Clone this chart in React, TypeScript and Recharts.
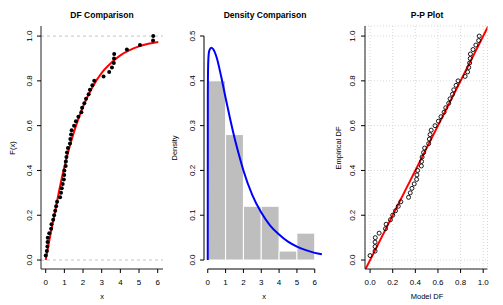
import React from 'react';
import {
  ComposedChart,
  XAxis,
  YAxis,
  Scatter,
  Line,
  ReferenceLine,
  ReferenceArea,
  CartesianGrid,
} from 'recharts';

const FONT = '"Liberation Sans", Arial, Helvetica, sans-serif';

// ---- Data ----
// sorted sample (x positions of the ECDF points)
const sampleX = [
  0.0, 0.06, 0.09, 0.1, 0.11, 0.19, 0.29, 0.31, 0.4, 0.45,
  0.51, 0.56, 0.61, 0.77, 0.82, 0.86, 0.91, 0.97, 0.99, 1.0,
  1.07, 1.08, 1.11, 1.14, 1.19, 1.3, 1.32, 1.36, 1.39, 1.52,
  1.62, 1.75, 1.91, 1.95, 2.07, 2.16, 2.3, 2.37, 2.5, 2.6,
  3.1, 3.4, 3.55, 3.65, 3.66, 3.67, 4.35, 5.05, 5.75, 5.76,
];
// empirical distribution values
const empiricalF = [
  0.02, 0.04, 0.06, 0.08, 0.1, 0.12, 0.14, 0.16, 0.18, 0.2,
  0.22, 0.24, 0.26, 0.28, 0.3, 0.32, 0.34, 0.36, 0.38, 0.4,
  0.42, 0.44, 0.46, 0.48, 0.5, 0.52, 0.54, 0.56, 0.58, 0.6,
  0.62, 0.64, 0.66, 0.68, 0.7, 0.72, 0.74, 0.76, 0.78, 0.8,
  0.82, 0.84, 0.86, 0.88, 0.9, 0.92, 0.94, 0.96, 0.98, 1.0,
];
// model DF at the sample points (P-P plot x)
const ppModel = [
  0.0, 0.044, 0.044, 0.044, 0.046, 0.08, 0.136, 0.142, 0.18, 0.2,
  0.225, 0.249, 0.272, 0.34, 0.355, 0.37, 0.39, 0.411, 0.414, 0.42,
  0.453, 0.455, 0.46, 0.473, 0.482, 0.518, 0.524, 0.53, 0.54, 0.574,
  0.604, 0.627, 0.654, 0.669, 0.695, 0.707, 0.728, 0.74, 0.76, 0.778,
  0.84, 0.862, 0.872, 0.88, 0.885, 0.887, 0.91, 0.935, 0.96, 0.965,
];
// fitted CDF curve
const cdfCurveX = [0, 0.1, 0.25, 0.5, 0.75, 1, 1.25, 1.5, 1.75, 2, 2.5, 3, 3.5, 4, 4.5, 5, 5.5, 6.03];
const cdfCurveY = [0, 0.045, 0.112, 0.215, 0.322, 0.415, 0.497, 0.567, 0.63, 0.685, 0.772, 0.836, 0.88, 0.914, 0.937, 0.954, 0.966, 0.974];
// fitted density curve
const densCurveX = [0, 0.005, 0.02, 0.05, 0.1, 0.2, 0.3, 0.5, 0.75, 1, 1.25, 1.5, 1.75, 2, 2.5, 3, 3.5, 4, 4.5, 5, 5.5, 6, 6.4];
const densCurveY = [0, 0.37, 0.43, 0.458, 0.469, 0.474, 0.471, 0.452, 0.41, 0.362, 0.316, 0.273, 0.235, 0.2, 0.145, 0.106, 0.077, 0.057, 0.041, 0.03, 0.022, 0.016, 0.013];
// histogram
const binLo = [0, 1, 2, 3, 4, 5];
const binHi = [1, 2, 3, 4, 5, 6];
const binDensity = [0.4, 0.28, 0.12, 0.12, 0.02, 0.06];
// ticks
const dfTicksX = [0, 1, 2, 3, 4, 5, 6];
const dfTicksY = [0, 0.2, 0.4, 0.6, 0.8, 1];
const densTicksX = [0, 1, 2, 3, 4, 5, 6];
const densTicksY = [0, 0.1, 0.2, 0.3, 0.4, 0.5];
const ppTicks = [0, 0.2, 0.4, 0.6, 0.8, 1];

// ---- derived tables ----
const ecdfPoints = sampleX.map((x, i) => ({ x, y: empiricalF[i] }));
const cdfCurve = cdfCurveX.map((x, i) => ({ x, y: cdfCurveY[i] }));
const densCurve = densCurveX.map((x, i) => ({ x, y: densCurveY[i] }));
const ppPoints = ppModel.map((x, i) => ({ x, y: empiricalF[i] }));

// axis domains (plot region extents)
const X1: [number, number] = [-0.252, 6.284];
const Y1: [number, number] = [-0.04, 1.045];
const X2: [number, number] = [-0.21, 6.63];
const Y2: [number, number] = [-0.02, 0.5223];
const X3: [number, number] = [-0.045, 1.038];

const makeXTick = (dec: number) => (props: any) => {
  const { x, y, payload } = props;
  return (
    <text
      x={x}
      y={y + 7}
      textAnchor="middle"
      dominantBaseline="central"
      fontSize={8}
      fontFamily={FONT}
      fill="#000"
    >
      {Number(payload.value).toFixed(dec)}
    </text>
  );
};

const makeYTick = (off: number) => (props: any) => {
  const { x, y, payload } = props;
  const ax = x - off;
  return (
    <text
      x={ax}
      y={y}
      transform={`rotate(-90, ${ax}, ${y})`}
      textAnchor="middle"
      dominantBaseline="central"
      fontSize={8}
      fontFamily={FONT}
      fill="#000"
    >
      {Number(payload.value).toFixed(1)}
    </text>
  );
};

const filledDot = (p: any) => <circle cx={p.cx} cy={p.cy} r={2} fill="#000" />;
const openDot = (p: any) => (
  <circle cx={p.cx} cy={p.cy} r={2} fill="none" stroke="#000" strokeWidth={0.9} />
);

function T({
  x,
  y,
  children,
  rot = 0,
  size = 7.5,
  bold = false,
}: {
  x: number;
  y: number;
  children: React.ReactNode;
  rot?: number;
  size?: number;
  bold?: boolean;
}) {
  return (
    <div
      style={{
        position: 'absolute',
        left: x,
        top: y,
        transform: `translate(-50%, -50%) rotate(${rot}deg)`,
        fontSize: size,
        fontWeight: bold ? 700 : 400,
        fontFamily: FONT,
        whiteSpace: 'nowrap',
        lineHeight: 1,
        color: '#000',
      }}
    >
      {children}
    </div>
  );
}

const BOX = '#222';

export default function App() {
  return (
    <div
      style={{
        position: 'absolute',
        left: 0,
        top: 0,
        width: 503,
        height: 305,
        background: '#fff',
        overflow: 'hidden',
      }}
    >
      {/* Panel 1: DF comparison */}
      <div style={{ position: 'absolute', left: 0, top: 0 }}>
        <ComposedChart width={170} height={305} margin={{ top: 26, right: 7, bottom: 0, left: 0 }}>
          <XAxis
            type="number"
            dataKey="x"
            domain={X1}
            ticks={dfTicksX}
            interval={0}
            allowDataOverflow
            height={36}
            tickSize={4}
            tickMargin={2}
            tick={makeXTick(0)}
            axisLine={{ stroke: BOX }}
            tickLine={{ stroke: '#000' }}
          />
          <XAxis xAxisId="t" type="number" orientation="top" domain={X1} height={0} tick={false} tickLine={false} axisLine={{ stroke: BOX }} />
          <YAxis
            type="number"
            dataKey="y"
            domain={Y1}
            ticks={dfTicksY}
            interval={0}
            allowDataOverflow
            width={41}
            tickSize={4}
            tickMargin={2}
            tick={makeYTick(5.5)}
            axisLine={{ stroke: BOX }}
            tickLine={{ stroke: '#000' }}
          />
          <YAxis yAxisId="r" type="number" orientation="right" domain={Y1} width={0} tick={false} tickLine={false} axisLine={{ stroke: BOX }} />
          <ReferenceLine y={0} stroke="#c4c4c4" strokeDasharray="3 3" />
          <ReferenceLine y={1} stroke="#c4c4c4" strokeDasharray="3 3" />
          <Scatter data={ecdfPoints} dataKey="y" shape={filledDot} isAnimationActive={false} />
          <Line data={cdfCurve} dataKey="y" type="monotone" stroke="#ff0000" strokeWidth={2} dot={false} isAnimationActive={false} />
        </ComposedChart>
      </div>

      {/* Panel 2: Density comparison */}
      <div style={{ position: 'absolute', left: 168, top: 0 }}>
        <ComposedChart width={165} height={305} margin={{ top: 26, right: 7, bottom: 0, left: 0 }}>
          <XAxis
            type="number"
            dataKey="x"
            domain={X2}
            ticks={densTicksX}
            interval={0}
            allowDataOverflow
            height={36}
            tickSize={4}
            tickMargin={2}
            tick={makeXTick(0)}
            axisLine={false}
            tickLine={{ stroke: '#000' }}
          />
          <YAxis
            type="number"
            dataKey="y"
            domain={Y2}
            ticks={densTicksY}
            interval={0}
            allowDataOverflow
            width={36}
            tickSize={4}
            tickMargin={2}
            tick={makeYTick(5.2)}
            axisLine={false}
            tickLine={{ stroke: '#000' }}
          />
          {binLo.map((lo, i) => (
            <ReferenceArea
              key={i}
              x1={lo}
              x2={binHi[i]}
              y1={0}
              y2={binDensity[i]}
              fill="#bebebe"
              fillOpacity={1}
              stroke="#ffffff"
              strokeWidth={1}
              ifOverflow="visible"
            />
          ))}
          <ReferenceLine
            segment={[{ x: densTicksX[0], y: Y2[0] }, { x: densTicksX[densTicksX.length - 1], y: Y2[0] }]}
            stroke="#000"
            ifOverflow="visible"
          />
          <ReferenceLine
            segment={[{ x: X2[0], y: densTicksY[0] }, { x: X2[0], y: densTicksY[densTicksY.length - 1] }]}
            stroke="#000"
            ifOverflow="visible"
          />
          <Line data={densCurve} dataKey="y" type="monotone" stroke="#0000ff" strokeWidth={2} dot={false} isAnimationActive={false} />
        </ComposedChart>
      </div>

      {/* Panel 3: P-P plot */}
      <div style={{ position: 'absolute', left: 336, top: 0 }}>
        <ComposedChart width={167} height={305} margin={{ top: 26, right: 15.5, bottom: 0, left: 0 }}>
          <CartesianGrid stroke="#d8d8d8" strokeDasharray="1 2" />
          <XAxis
            type="number"
            dataKey="x"
            domain={X3}
            ticks={ppTicks}
            interval={0}
            allowDataOverflow
            height={36}
            tickSize={4}
            tickMargin={2}
            tick={makeXTick(1)}
            axisLine={{ stroke: BOX }}
            tickLine={{ stroke: '#000' }}
          />
          <XAxis xAxisId="t" type="number" orientation="top" domain={X3} height={0} tick={false} tickLine={false} axisLine={{ stroke: BOX }} />
          <YAxis
            type="number"
            dataKey="y"
            domain={Y1}
            ticks={ppTicks}
            interval={0}
            allowDataOverflow
            width={29}
            tickSize={4}
            tickMargin={2}
            tick={makeYTick(6.3)}
            axisLine={{ stroke: BOX }}
            tickLine={{ stroke: '#000' }}
          />
          <YAxis yAxisId="r" type="number" orientation="right" domain={Y1} width={0} tick={false} tickLine={false} axisLine={{ stroke: BOX }} />
          <Scatter data={ppPoints} dataKey="y" shape={openDot} isAnimationActive={false} />
          <ReferenceLine
            segment={[{ x: -0.2, y: -0.2 }, { x: 1.2, y: 1.2 }]}
            stroke="#ff0000"
            strokeWidth={2}
            ifOverflow="hidden"
          />
        </ComposedChart>
      </div>

      {/* titles and axis labels */}
      <T x={102} y={15} size={8.5} bold>DF Comparison</T>
      <T x={265} y={15} size={8.5} bold>Density Comparison</T>
      <T x={427} y={15} size={8.5} bold>P-P Plot</T>
      <T x={102} y={297}>x</T>
      <T x={264} y={297}>x</T>
      <T x={427} y={297}>Model DF</T>
      <T x={13} y={148} rot={-90}>F(x)</T>
      <T x={175} y={148} rot={-90}>Density</T>
      <T x={339} y={148} rot={-90}>Empirical DF</T>
    </div>
  );
}
